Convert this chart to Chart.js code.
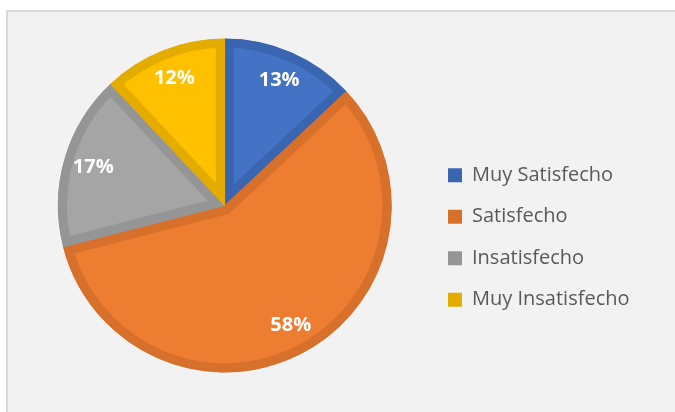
<!DOCTYPE html>
<html>
<head>
<meta charset="utf-8">
<script src="https://cdn.jsdelivr.net/npm/chart.js@4"></script>
<style>
  html, body { margin: 0; padding: 0; background: #ffffff; }
  #frame {
    position: absolute; left: 6px; top: 10px;
    width: 667px; height: 400px;
    background: #f2f2f2;
    border-left: 2px solid #d9d9d9;
    border-top: 2px solid #d9d9d9;
  }
</style>
</head>
<body>
<div id="frame"><canvas id="chart" width="667" height="400"></canvas></div>
<script>
// data
var labels = ["Muy Satisfecho", "Satisfecho", "Insatisfecho", "Muy Insatisfecho"];
var values = [13, 58, 17, 12];
var fillColors = ["#4472C4", "#ED7D31", "#A5A5A5", "#FFC000"];
var edgeColors = ["#3A65B0", "#D6702B", "#959595", "#E5AC00"];

var legendFont = "'Open Sans', sans-serif";
var legendSize = 20;

// work out legend width so the pie lands where it should
var mctx = document.createElement("canvas").getContext("2d");
mctx.font = legendSize + "px " + legendFont;
var maxText = 0;
labels.forEach(function(l) { maxText = Math.max(maxText, mctx.measureText(l).width); });
var legendW = 22 + 14 + legendSize / 2 + maxText;
var padRight = 239 - legendW;

//percent labels inside slices
var pctLabels = {
  id: "pctLabels",
  afterDatasetsDraw: function(chart) {
    var ctx = chart.ctx;
    var meta = chart.getDatasetMeta(0);
    ctx.save();
    ctx.font = "bold 20px 'Open Sans', sans-serif";
    ctx.fillStyle = "#ffffff";
    ctx.textAlign = "center";
    ctx.textBaseline = "middle";
    meta.data.forEach(function(arc, i) {
      var p = arc.getProps(["x", "y", "startAngle", "endAngle", "outerRadius"], true);
      var mid = (p.startAngle + p.endAngle) / 2;
      var r = p.outerRadius * 0.82;
      ctx.fillText(values[i] + "%", p.x + Math.cos(mid) * r, p.y + Math.sin(mid) * r);
    });
    ctx.restore();
  }
};

new Chart(document.getElementById("chart"), {
  type: "pie",
  data: {
    labels: labels,
    datasets: [{
      data: values,
      backgroundColor: fillColors,
      borderColor: edgeColors,
      borderWidth: 9,
      borderAlign: "inner",
      borderJoinStyle: "miter"
    }]
  },
  options: {
    responsive: false,
    animation: false,
    layout: { padding: { left: 15, right: padRight, top: 26.5, bottom: 39.5 } },
    plugins: {
      tooltip: { enabled: false },
      legend: {
        position: "right",
        title: { display: true, text: " ", font: { size: 12 }, padding: { top: 0, bottom: 49.6 } },
        labels: {
          boxWidth: 14,
          boxHeight: 14,
          padding: 21.5,
          color: "#595959",
          font: { family: legendFont, size: legendSize },
          generateLabels: function(chart) {
            return labels.map(function(l, i) {
              return { text: l, fillStyle: edgeColors[i], strokeStyle: edgeColors[i], lineWidth: 0, index: i, fontColor: "#595959" };
            });
          }
        }
      }
    }
  },
  plugins: [pctLabels]
});
</script>
</body>
</html>
